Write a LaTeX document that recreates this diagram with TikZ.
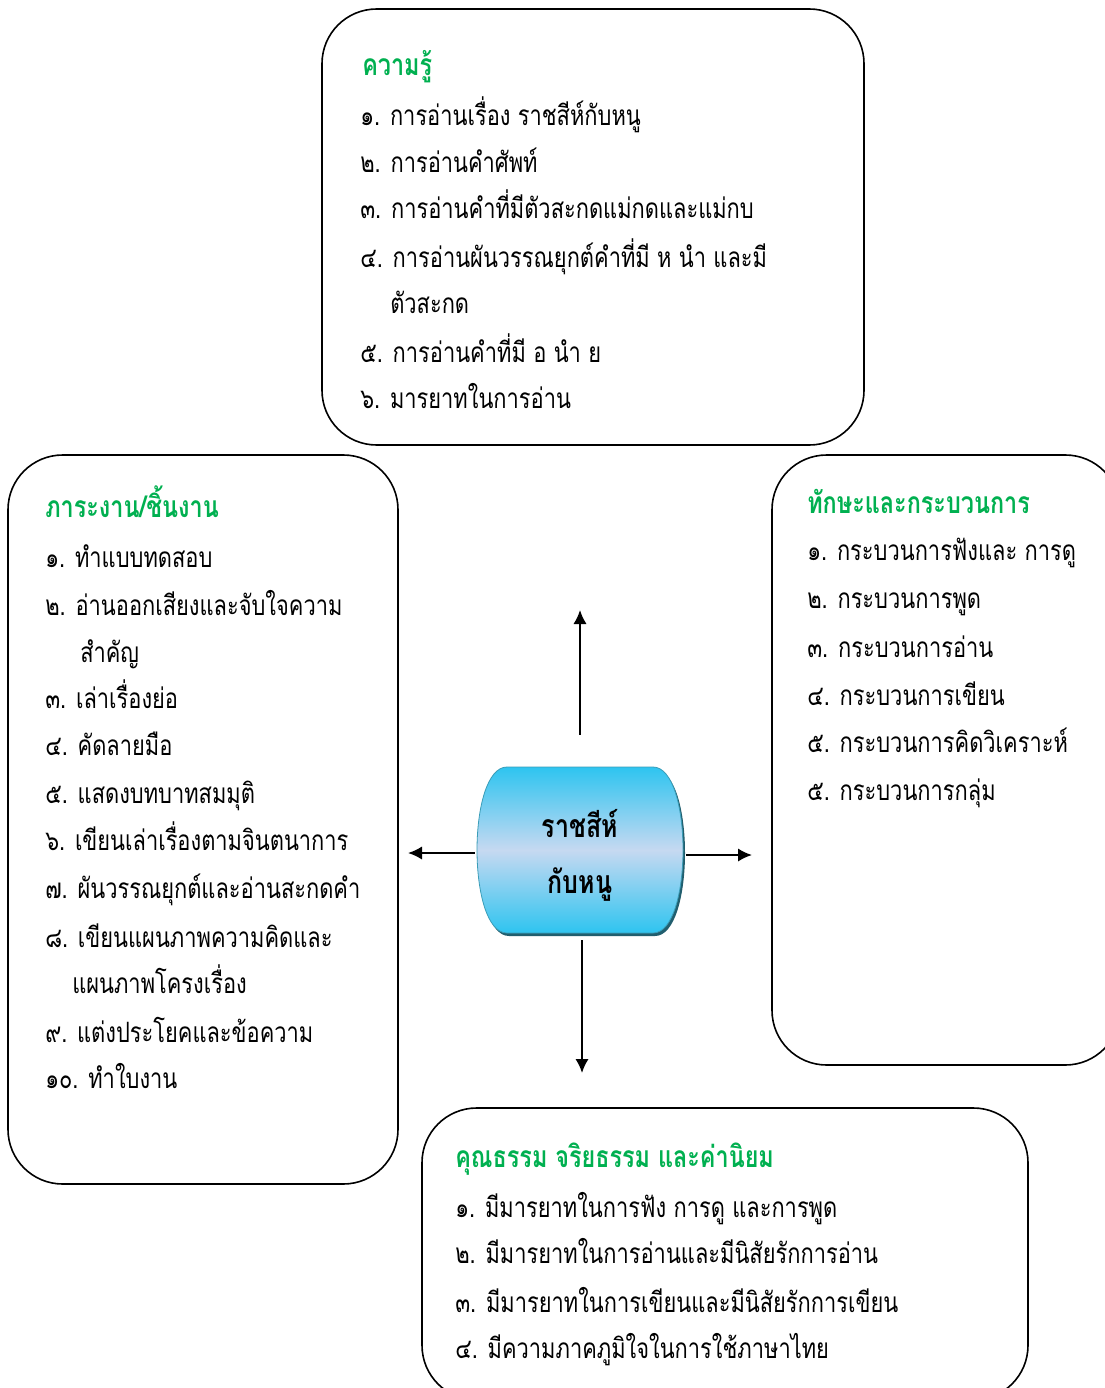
\documentclass[tikz,border=0pt]{standalone}
\usepackage{fontspec}
\newfontfamily\thaifont[Script=Thai,FakeStretch=0.78]{Loma}
\usetikzlibrary{arrows.meta}
\definecolor{headgreen}{HTML}{00B050}
\definecolor{cyltop}{HTML}{2EC4F0}
\definecolor{cylmid}{HTML}{C6D9F1}
\definecolor{cyledge}{HTML}{3A9DB8}
\definecolor{cylshadow}{HTML}{215E6E}
\begin{document}
\begin{tikzpicture}[x=0.75pt,y=-0.75pt,
  panel/.style={draw=black,line width=1.2pt,rounded corners=41pt,inner sep=0pt},
  body/.style={anchor=base west,inner sep=0pt,font=\thaifont\fontsize{21}{24}\selectfont},
  headline/.style={body,text=headgreen,font=\thaifont\bfseries\fontsize{22.5}{26}\selectfont},
  centertext/.style={anchor=base,inner sep=0pt,font=\thaifont\bfseries\fontsize{24}{28}\selectfont},
  spoke/.style={line width=1.5pt,-{Latex[length=10.5pt,width=10pt]}}]
\clip (0,0) rectangle (1105,1388);
\fill[white] (0,0) rectangle (1105,1388);
% panels
\node[panel,minimum width=406.5pt,minimum height=327pt] (kbox) at (593,227) {};
\node[panel,minimum width=292.5pt,minimum height=546.75pt] (wbox) at (203,819.5) {};
\node[panel,minimum width=261pt,minimum height=457.5pt] (sbox) at (946,760) {};
\node[panel,minimum width=454.5pt,minimum height=219pt] (vbox) at (725,1254) {};
% top panel text
\node[headline] (k0) at (362,76) {ความรู้};
\node[body] (k1) at (360,125) {๑. การอ่านเรื่อง ราชสีห์กับหนู};
\node[body] (k2) at (360,172) {๒. การอ่านคำศัพท์};
\node[body] (k3) at (360,218) {๓. การอ่านคำที่มีตัวสะกดแม่กดและแม่กบ};
\node[body] (k4) at (360,267) {๔. การอ่านผันวรรณยุกต์คำที่มี ห นำ และมี};
\node[body] (k4b) at (390,313) {ตัวสะกด};
\node[body] (k5) at (360,362) {๕. การอ่านคำที่มี อ นำ ย};
\node[body] (k6) at (360,408) {๖. มารยาทในการอ่าน};
% left panel text
\node[headline] (w0) at (45,517) {ภาระงาน/ชิ้นงาน};
\node[body] (w1) at (45,567) {๑. ทำแบบทดสอบ};
\node[body] (w2) at (45,615) {๒. อ่านออกเสียงและจับใจความ};
\node[body] (w2b) at (80,662) {สำคัญ};
\node[body] (w3) at (45,708) {๓. เล่าเรื่องย่อ};
\node[body] (w4) at (45,755) {๔. คัดลายมือ};
\node[body] (w5) at (45,803) {๕. แสดงบทบาทสมมุติ};
\node[body] (w6) at (45,850) {๖. เขียนเล่าเรื่องตามจินตนาการ};
\node[body] (w7) at (45,898) {๗. ผันวรรณยุกต์และอ่านสะกดคำ};
\node[body] (w8) at (45,947) {๘. เขียนแผนภาพความคิดและ};
\node[body] (w8b) at (72,993) {แผนภาพโครงเรื่อง};
\node[body] (w9) at (45,1042) {๙. แต่งประโยคและข้อความ};
\node[body] (w10) at (45,1088) {๑๐. ทำใบงาน};
% right panel text
\node[headline] (s0) at (807,513) {ทักษะและกระบวนการ};
\node[body] (s1) at (807,560) {๑. กระบวนการฟังและ การดู};
\node[body] (s2) at (807,608) {๒. กระบวนการพูด};
\node[body] (s3) at (807,657) {๓. กระบวนการอ่าน};
\node[body] (s4) at (807,705) {๔. กระบวนการเขียน};
\node[body] (s5) at (807,752) {๕. กระบวนการคิดวิเคราะห์};
\node[body] (s6) at (807,800) {๕. กระบวนการกลุ่ม};
% bottom panel text
\node[headline] (v0) at (455,1167) {คุณธรรม จริยธรรม และค่านิยม};
\node[body] (v1) at (455,1217) {๑. มีมารยาทในการฟัง การดู และการพูด};
\node[body] (v2) at (455,1263) {๒. มีมารยาทในการอ่านและมีนิสัยรักการอ่าน};
\node[body] (v3) at (455,1312) {๓. มีมารยาทในการเขียนและมีนิสัยรักการเขียน};
\node[body] (v4) at (455,1358) {๔. มีความภาคภูมิใจในการใช้ภาษาไทย};
% centre barrel
\fill[cylshadow] (509,770) -- (655,770) .. controls (695,770) and (695,936) .. (655,936)
  -- (509,936) .. controls (469,936) and (469,770) .. (509,770) -- cycle;
\shade[top color=cyltop,bottom color=cyltop,middle color=cylmid,draw=cyledge,line width=0.6pt]
  (507,767) -- (653,767) .. controls (693,767) and (693,933) .. (653,933)
  -- (507,933) .. controls (467,933) and (467,767) .. (507,767) -- cycle;
\node[inner sep=0pt,minimum width=154.5pt,minimum height=124.5pt] (hub) at (580,850) {};
\node[centertext] (h1) at (580,837) {ราชสีห์};
\node[centertext] (h2) at (580,893) {กับหนู};
% spokes
\coordinate (upend) at (580,610);
\coordinate (leftend) at (408,853);
\coordinate (rightend) at (752,855);
\coordinate (downend) at (582,1073);
\draw[spoke] ([yshift=24pt]hub.north) -- (upend);
\draw[spoke] ([xshift=-1.5pt,yshift=-2.25pt]hub.west) -- (leftend);
\draw[spoke] ([xshift=2.25pt,yshift=-3.75pt]hub.east) -- (rightend);
\draw[spoke] ([xshift=1.5pt,yshift=-5.25pt]hub.south) -- (downend);
\end{tikzpicture}
\end{document}
